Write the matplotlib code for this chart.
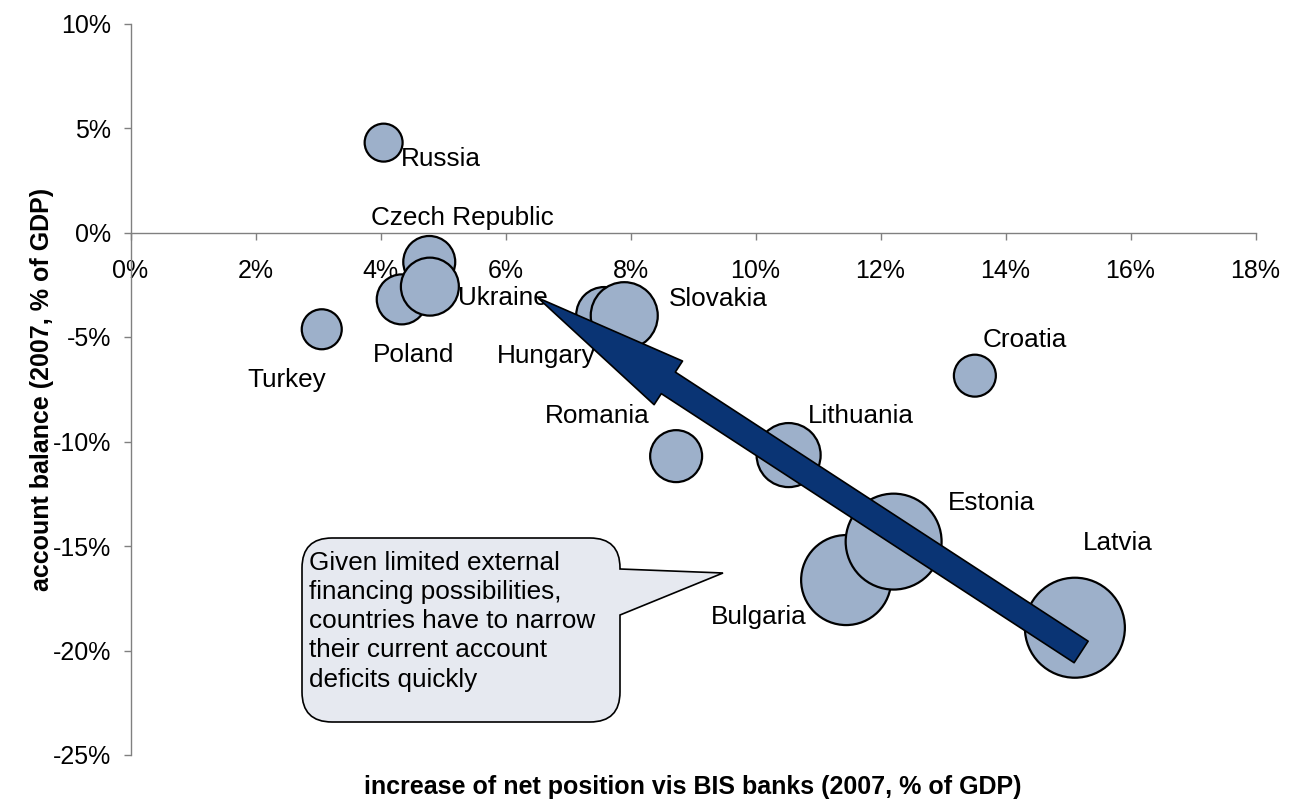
import numpy as np
import matplotlib
matplotlib.use("Agg")
import matplotlib.pyplot as plt
from matplotlib.patches import FancyArrowPatch, PathPatch, ArrowStyle
from matplotlib.path import Path
from matplotlib.ticker import FuncFormatter

plt.rcParams["font.family"] = ["Liberation Sans", "DejaVu Sans"]

# data (percent of GDP)
countries = ["Russia", "Czech Republic", "Ukraine", "Poland", "Turkey", "Hungary",
             "Slovakia", "Croatia", "Romania", "Lithuania", "Estonia", "Bulgaria", "Latvia"]
bis_increase = [4.05, 4.78, 4.79, 4.34, 3.06, 7.58, 7.90, 13.51, 8.73, 10.53, 12.21, 11.45, 15.11]
ca_balance = [4.30, -1.41, -2.59, -3.20, -4.63, -3.95, -3.98, -6.85, -10.70, -10.65, -14.79, -16.63, -18.91]
bubble_size = [14.4, 27.0, 33.6, 25.0, 16.0, 31.4, 44.9, 17.6, 27.0, 41.0, 92.0, 81.0, 100.0]

x_ticks = list(range(0, 19, 2))
y_ticks = list(range(-25, 11, 5))

callout_text = ("Given limited external\nfinancing possibilities,\n"
                "countries have to narrow\ntheir current account\ndeficits quickly")

# label placement, pixel offsets from bubble centre (right, down)
label_offsets = {
    "Russia": (57, 16), "Czech Republic": (33, -44), "Ukraine": (73, 11),
    "Poland": (12, 56), "Turkey": (-35, 51), "Hungary": (-58, 41),
    "Slovakia": (94, -17), "Croatia": (50, -36), "Romania": (-79, -40),
    "Lithuania": (72, -39), "Estonia": (98, -39), "Latvia": (43, -85),
    "Bulgaria": (-87, 37),
}

W, H = 1290, 806
fig = plt.figure(figsize=(W / 100, H / 100), dpi=100)
ax = fig.add_axes([130.5 / W, (H - 755) / H, 1125 / W, 731.5 / H])

grey = "#808080"
ax.set_xlim(0, 18)
ax.set_ylim(-25, 10)
ax.set_xticks(x_ticks)
ax.set_yticks(y_ticks)
pct = FuncFormatter(lambda v, p: f"{v:.0f}%")
ax.xaxis.set_major_formatter(pct)
ax.yaxis.set_major_formatter(pct)

for s in ["top", "right"]:
    ax.spines[s].set_visible(False)
ax.spines["bottom"].set_position(("data", 0))
for s in ["bottom", "left"]:
    ax.spines[s].set_color(grey)
    ax.spines[s].set_linewidth(1.0)
ax.tick_params(axis="both", direction="out", length=5, width=1, color=grey,
               labelsize=18, labelcolor="black")
ax.tick_params(axis="x", pad=14)
ax.tick_params(axis="y", pad=9)

# bubbles, smaller ones first so the large ones sit on top
order = np.argsort(bubble_size, kind="stable")
xs = np.array(bis_increase)[order]
ys = np.array(ca_balance)[order]
ss = np.array(bubble_size)[order] * 51.84
ax.scatter(xs, ys, s=ss, c="#9DB0CA", edgecolors="black", linewidths=1.6,
           zorder=3, clip_on=False)

for name, x, y in zip(countries, bis_increase, ca_balance):
    dx, dy = label_offsets[name]
    ax.annotate(name, (x, y), xytext=(dx, -dy), textcoords="offset pixels",
                ha="center", va="center", fontsize=18.8, zorder=4)

# big arrow from Latvia back up to Ukraine
arrow = FancyArrowPatch((15.21, -20.07), (6.52, -3.13),
                        arrowstyle=ArrowStyle.Simple(head_length=112, head_width=37.5,
                                                     tail_width=18.5),
                        mutation_scale=1, shrinkA=0, shrinkB=0,
                        fc="#0A3474", ec="black", lw=1.2, zorder=5,
                        transform=ax.transData, clip_on=False)
ax.add_patch(arrow)

# speech bubble (pixel layout, converted to figure fraction)
L, R, T, B, rad = 302, 620, 538, 722, 30
tip = (723, 573)
ty1, ty2 = 569, 615
pts = [(L + rad, T), (R - rad, T), (R, T), (R, T + rad), (R, ty1), tip, (R, ty2),
       (R, B - rad), (R, B), (R - rad, B), (L + rad, B), (L, B), (L, B - rad),
       (L, T + rad), (L, T), (L + rad, T), (L + rad, T)]
codes = [Path.MOVETO, Path.LINETO, Path.CURVE3, Path.CURVE3, Path.LINETO, Path.LINETO,
         Path.LINETO, Path.LINETO, Path.CURVE3, Path.CURVE3, Path.LINETO, Path.CURVE3,
         Path.CURVE3, Path.LINETO, Path.CURVE3, Path.CURVE3, Path.CLOSEPOLY]
verts = [(px / W, 1 - py / H) for px, py in pts]
fig.patches.append(PathPatch(Path(verts, codes), fc="#E6E9F0", ec="black", lw=1.2,
                             transform=fig.transFigure, zorder=6))
fig.text(309 / W, 1 - 551 / H, callout_text, ha="left", va="top", fontsize=18.8,
         linespacing=1.27, zorder=7)

ax.set_ylabel("account balance (2007, % of GDP)", fontsize=18, fontweight="bold")
ax.yaxis.set_label_coords(-0.068, 0.5)
fig.text(693 / W, 1 - 787 / H, "increase of net position vis BIS banks (2007, % of GDP)",
         ha="center", va="center", fontsize=18, fontweight="bold")

fig.savefig("out.png", dpi=100)
